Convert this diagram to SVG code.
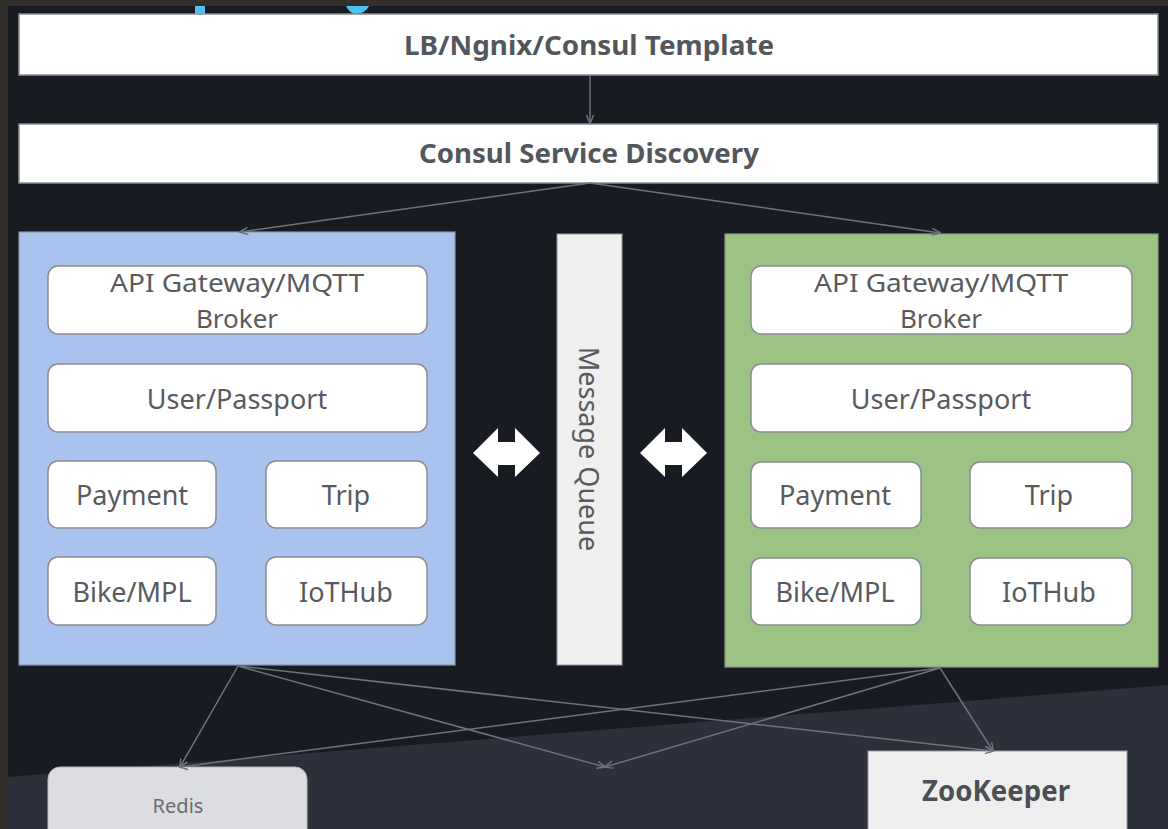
<svg xmlns="http://www.w3.org/2000/svg" width="1168" height="829" viewBox="0 0 1168 829">
  <defs>
    <marker id="ah" viewBox="0 0 10 10" refX="9" refY="5" markerWidth="9" markerHeight="9" markerUnits="userSpaceOnUse" orient="auto">
      <path d="M0,1 L10,5 L0,9" fill="none" stroke="#6e727a" stroke-width="1.6"/>
    </marker>
    <style>
      .bar { fill: #ffffff; stroke: #8d8f93; stroke-width: 1.5; }
      .bartxt { font-family: "Noto Sans", "Open Sans", sans-serif; font-weight: bold; font-size: 26px; fill: #53575c; text-anchor: middle; dominant-baseline: central; }
      .card { fill: #ffffff; stroke: #8a8c90; stroke-width: 1.5; }
      .txt { font-family: "Noto Sans", "Open Sans", sans-serif; font-size: 27px; fill: #585a5e; text-anchor: middle; dominant-baseline: central; }
      .txt2 { font-size: 26px; }
      .conn { fill: none; stroke: #6e727a; stroke-width: 1.5; marker-end: url(#ah); }
      .dbl { fill: #ffffff; }
    </style>
  </defs>

  <!-- background -->
  <rect x="0" y="0" width="1168" height="829" fill="#332f2a"/>
  <rect x="8" y="6" width="1160" height="823" fill="#181b22"/>
  <polygon points="8,777 1168,685 1168,829 8,829" fill="#2b303b"/>
  <rect x="195" y="6" width="10" height="8" fill="#4fc0ef"/>
  <path d="M346,6 L369,6 Q366,13 356,14 Q349,13 346,6 Z" fill="#4fc0ef"/>

  <!-- top bars -->
  <g id="lb">
    <rect class="bar" x="19" y="14" width="1139" height="61"/>
    <text class="bartxt" x="589" y="45" textLength="370" lengthAdjust="spacingAndGlyphs">LB/Ngnix/Consul Template</text>
  </g>
  <g id="consul">
    <rect class="bar" x="19" y="124" width="1139" height="59"/>
    <text class="bartxt" x="589" y="153" textLength="340" lengthAdjust="spacingAndGlyphs">Consul Service Discovery</text>
  </g>

  <!-- left panel -->
  <g id="left-panel">
    <rect x="19" y="232" width="436" height="433" fill="#a9c3ee" stroke="#8a95a8" stroke-width="1.2"/>
  </g>
  <g id="l-api">
    <rect class="card" x="48" y="266" width="379" height="68" rx="10"/>
    <text class="txt txt2" x="237" y="281.5" textLength="254" lengthAdjust="spacingAndGlyphs">API Gateway/MQTT</text>
    <text class="txt txt2" x="237" y="317.5">Broker</text>
  </g>
  <g id="l-user">
    <rect class="card" x="48" y="364" width="379" height="68" rx="10"/>
    <text class="txt" x="237" y="398">User/Passport</text>
  </g>
  <g id="l-payment">
    <rect class="card" x="48" y="461" width="168" height="67" rx="10"/>
    <text class="txt" x="132" y="494">Payment</text>
  </g>
  <g id="l-trip">
    <rect class="card" x="266" y="461" width="161" height="67" rx="10"/>
    <text class="txt" x="346" y="494">Trip</text>
  </g>
  <g id="l-bike">
    <rect class="card" x="48" y="557" width="168" height="68" rx="10"/>
    <text class="txt" x="132" y="591">Bike/MPL</text>
  </g>
  <g id="l-iot">
    <rect class="card" x="266" y="557" width="161" height="68" rx="10"/>
    <text class="txt" x="346" y="591">IoTHub</text>
  </g>

  <!-- message queue -->
  <g id="mq">
    <rect x="557" y="234" width="65" height="431" fill="#efefef" stroke="#9a9a9a" stroke-width="1"/>
    <text class="txt" x="0" y="0" transform="translate(589,449) rotate(90)">Message Queue</text>
  </g>

  <!-- right panel -->
  <g id="right-panel">
    <rect x="725" y="234" width="433" height="433" fill="#9cc383" stroke="#8a9a80" stroke-width="1.2"/>
  </g>
  <g id="r-api">
    <rect class="card" x="751" y="266" width="381" height="68" rx="10"/>
    <text class="txt txt2" x="941" y="281.5" textLength="254" lengthAdjust="spacingAndGlyphs">API Gateway/MQTT</text>
    <text class="txt txt2" x="941" y="317.5">Broker</text>
  </g>
  <g id="r-user">
    <rect class="card" x="751" y="364" width="381" height="68" rx="10"/>
    <text class="txt" x="941" y="398">User/Passport</text>
  </g>
  <g id="r-payment">
    <rect class="card" x="751" y="462" width="170" height="66" rx="10"/>
    <text class="txt" x="835" y="494">Payment</text>
  </g>
  <g id="r-trip">
    <rect class="card" x="970" y="462" width="162" height="66" rx="10"/>
    <text class="txt" x="1049" y="494">Trip</text>
  </g>
  <g id="r-bike">
    <rect class="card" x="751" y="558" width="170" height="67" rx="10"/>
    <text class="txt" x="835" y="591">Bike/MPL</text>
  </g>
  <g id="r-iot">
    <rect class="card" x="970" y="558" width="162" height="67" rx="10"/>
    <text class="txt" x="1049" y="591">IoTHub</text>
  </g>

  <!-- double arrows -->
  <g id="dbl-left">
    <path class="dbl" d="M473,453 L498,428 L498,442 L515,442 L515,428 L540,453 L515,477 L515,465 L498,465 L498,477 Z"/>
  </g>
  <g id="dbl-right">
    <path class="dbl" d="M640,453 L665,428 L665,442 L682,442 L682,428 L707,453 L682,477 L682,465 L665,465 L665,477 Z"/>
  </g>

  <!-- bottom nodes -->
  <g id="redis">
    <rect x="48" y="767" width="259" height="80" rx="12" fill="#dcdde0" stroke="#b5b7bb" stroke-width="1"/>
    <text x="178" y="805" font-family="Noto Sans, Open Sans, sans-serif" font-size="20" fill="#6a6c70" text-anchor="middle" dominant-baseline="central">Redis</text>
  </g>
  <g id="zookeeper">
    <rect x="868" y="751" width="259" height="90" fill="#eeeeee" stroke="#9a9a9a" stroke-width="1"/>
    <text x="996" y="790" font-family="Noto Sans, Open Sans, sans-serif" font-weight="bold" font-size="28" fill="#4b4e53" text-anchor="middle" dominant-baseline="central" textLength="148" lengthAdjust="spacingAndGlyphs">ZooKeeper</text>
  </g>

  <!-- connectors -->
  <g id="connectors">
    <line class="conn" x1="590" y1="75" x2="590" y2="123"/>
    <line class="conn" x1="590" y1="183" x2="240" y2="232"/>
    <line class="conn" x1="590" y1="183" x2="940" y2="233"/>
    <line class="conn" x1="238" y1="666" x2="180" y2="767"/>
    <line class="conn" x1="238" y1="666" x2="605" y2="767"/>
    <line class="conn" x1="238" y1="666" x2="993" y2="751"/>
    <line class="conn" x1="940" y1="668" x2="180" y2="767"/>
    <line class="conn" x1="940" y1="668" x2="605" y2="767"/>
    <line class="conn" x1="940" y1="668" x2="993" y2="751"/>
  </g>
</svg>
